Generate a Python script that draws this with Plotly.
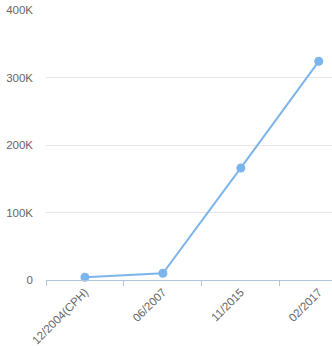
import plotly.graph_objects as go

categories = ["12/2004(CPH)", "06/2007", "11/2015", "02/2017"]
values = [4000, 10000, 166000, 324000]
y_ticks = [0, 100000, 200000, 300000, 400000]
y_tick_labels = ["0", "100K", "200K", "300K", "400K"]

fig = go.Figure()
fig.add_trace(go.Scatter(
    x=categories, y=values, mode="lines+markers",
    line=dict(color="#7cb5ec", width=2),
    marker=dict(color="#7cb5ec", size=9),
    cliponaxis=False,
))
fig.update_layout(
    width=332, height=346,
    margin=dict(l=46, r=0, t=10, b=66),
    plot_bgcolor="white", paper_bgcolor="white",
    showlegend=False,
    font=dict(family="Arial, Liberation Sans, sans-serif", size=12, color="#666666"),
)
fig.update_xaxes(
    type="category", range=[-0.5, 3.17], automargin=False,
    tickson="boundaries", ticks="outside", ticklen=5, tickcolor="#b0c4de",
    showline=True, linecolor="#b0c4de", linewidth=1,
    showgrid=False, tickangle=-45, zeroline=False,
    tickfont=dict(size=11.5, color="#666666"),
)
fig.update_yaxes(
    range=[0, 400000], tickvals=y_ticks, ticktext=y_tick_labels, automargin=False,
    showgrid=True, gridcolor="#e6e6e6", showline=False, zeroline=False,
    ticks="", ticklabelstandoff=12,
    tickfont=dict(size=11.5, color="#666666"),
)
fig.write_html("out.html")
